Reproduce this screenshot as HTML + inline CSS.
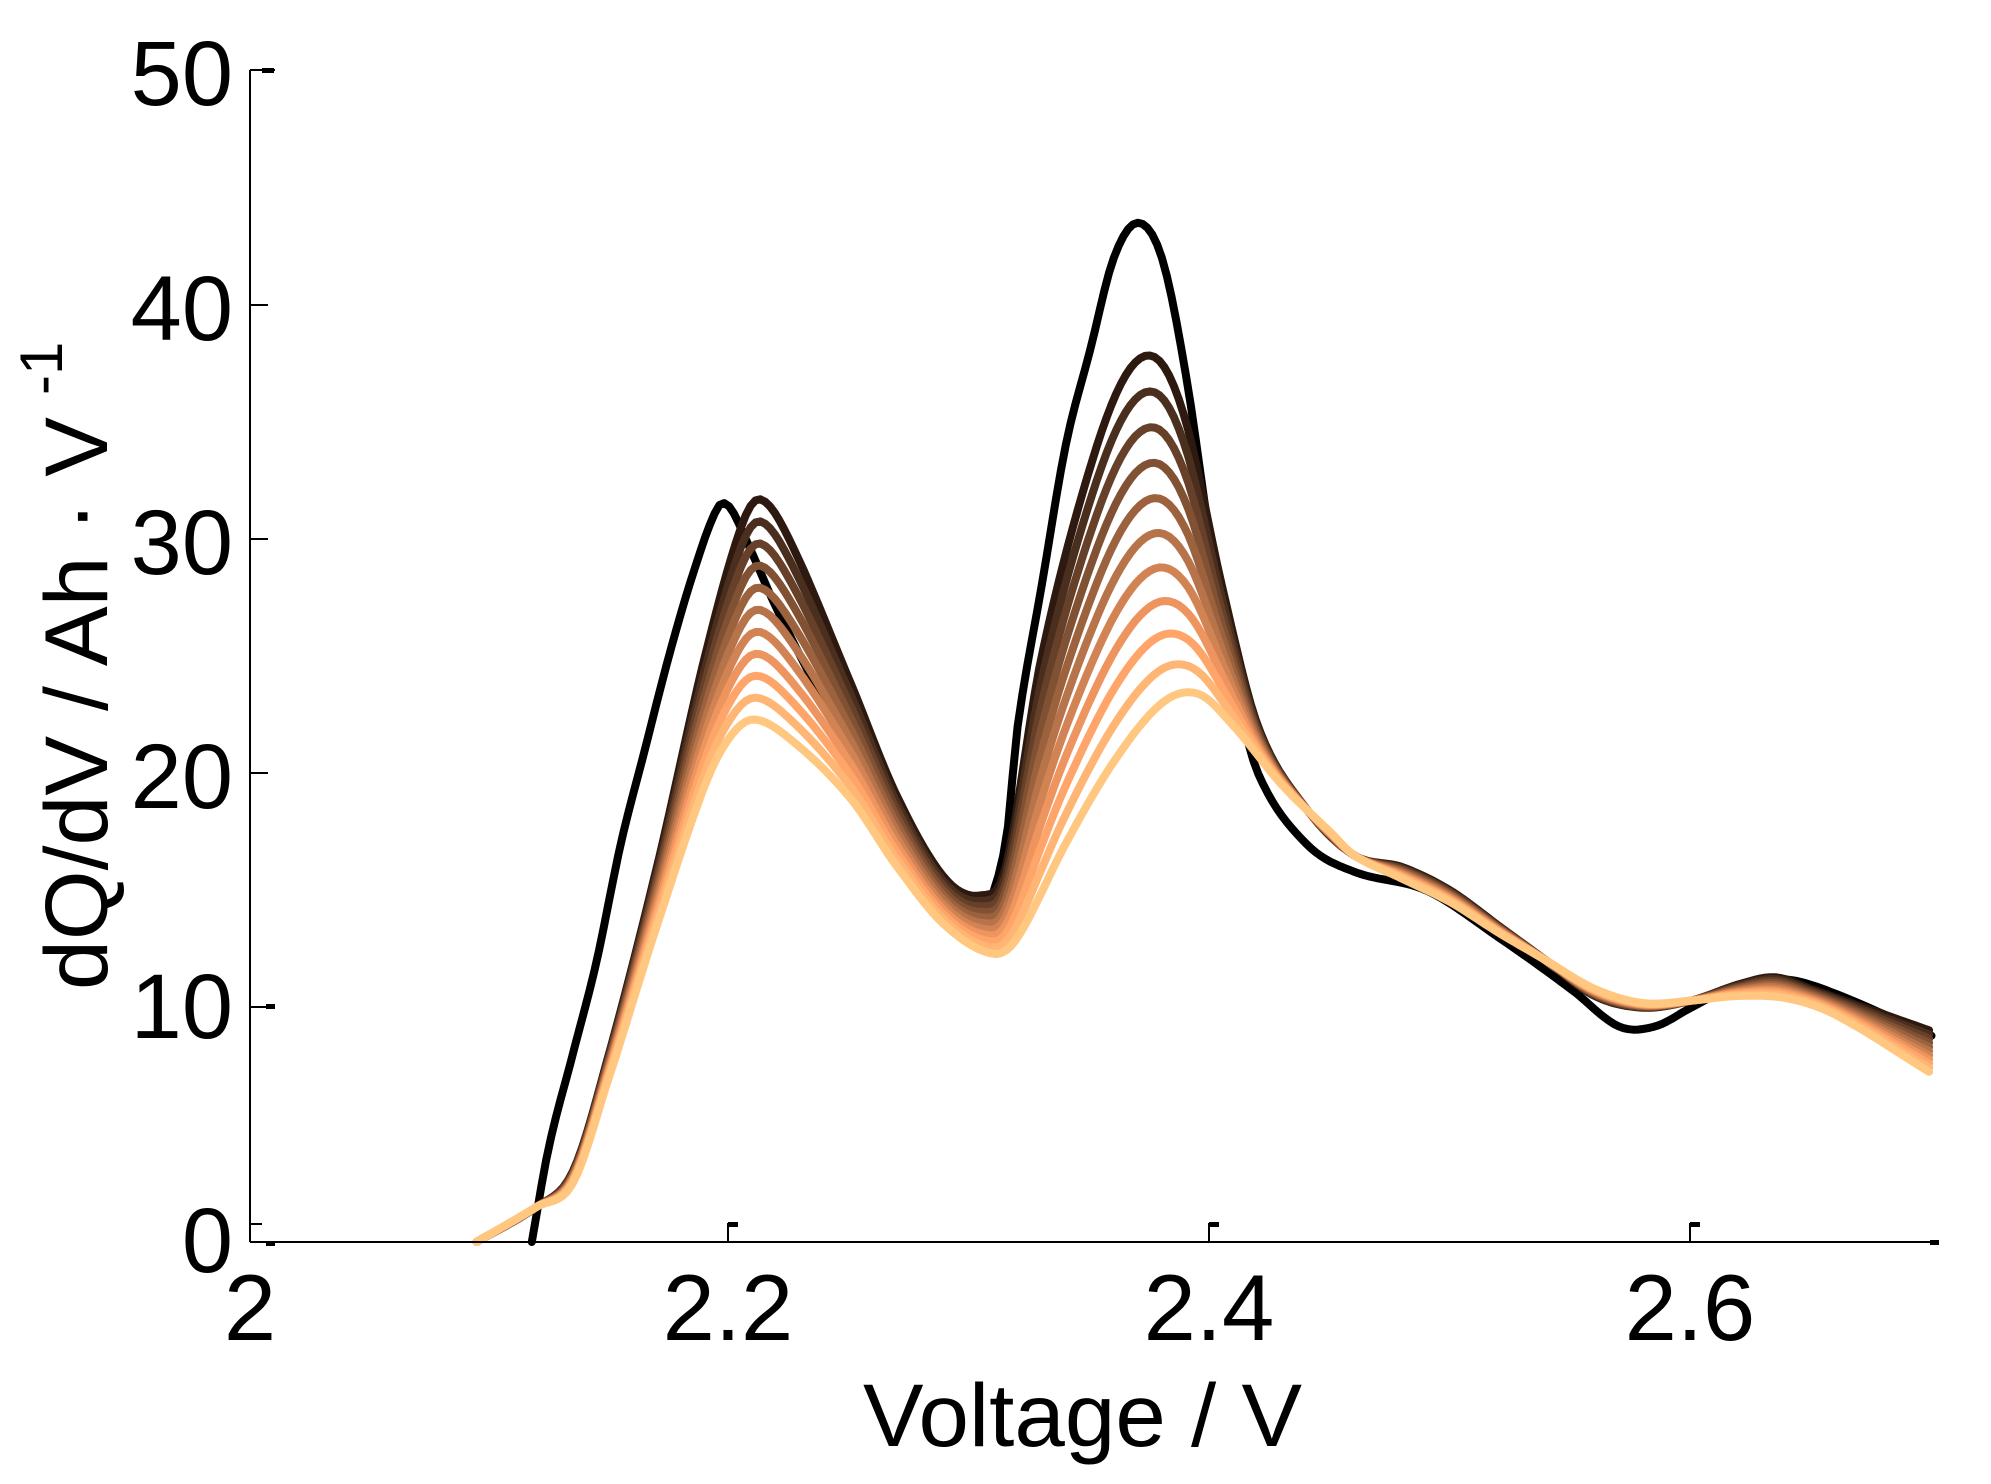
<!DOCTYPE html>
<html><head><meta charset="utf-8"><style>
html,body{margin:0;padding:0;background:#fff;}
svg{display:block;}
text{font-family:"Liberation Sans",Arial,sans-serif;fill:#000;}
</style></head><body>
<svg id="s" width="1991" height="1484" viewBox="0 0 1991 1484" xmlns="http://www.w3.org/2000/svg">
<rect width="1991" height="1484" fill="#fff"/>
<g id="curves" fill="none" stroke-linejoin="round" stroke-linecap="round"></g>
<line x1="250" y1="70" x2="250" y2="1242" stroke="#000" stroke-width="2"/>
<line x1="250" y1="1242" x2="1936" y2="1242" stroke="#000" stroke-width="2"/>
<rect x="1930" y="1240" width="9" height="5" fill="#000"/>
<g stroke="#000" stroke-width="2">
<line x1="250" y1="70" x2="275" y2="70"/>
<line x1="250" y1="305" x2="268" y2="305"/>
<line x1="250" y1="539" x2="268" y2="539"/>
<line x1="250" y1="773" x2="268" y2="773"/>
<line x1="250" y1="1007" x2="268" y2="1007"/>
<line x1="250" y1="1224" x2="262" y2="1224"/>
<line x1="728" y1="1242" x2="728" y2="1223"/>
<line x1="1209" y1="1242" x2="1209" y2="1223"/>
<line x1="1690" y1="1242" x2="1690" y2="1223"/>
</g>
<g fill="#000">
<rect x="262" y="68" width="12" height="5"/><rect x="266" y="1004" width="9" height="5"/>
<rect x="728" y="1222" width="10" height="5"/><rect x="1209" y="1222" width="10" height="5"/><rect x="1690" y="1222" width="10" height="5"/>
<rect x="266" y="1241" width="9" height="5"/>
</g>
<g font-size="92" text-anchor="end">
<text x="233" y="105">50</text>
<text x="233" y="340">40</text>
<text x="233" y="574">30</text>
<text x="233" y="808">20</text>
<text x="233" y="1038">10</text>
<text x="233" y="1272">0</text>
</g>
<g font-size="94" text-anchor="middle">
<text x="250" y="1340">2</text>
<text x="728" y="1340">2.2</text>
<text x="1209" y="1340">2.4</text>
<text x="1690" y="1340">2.6</text>
</g>
<text x="863" y="1446" font-size="89" textLength="439" lengthAdjust="spacingAndGlyphs">Voltage / V</text>
<text transform="translate(107,990) rotate(-90)" font-size="89" textLength="573" lengthAdjust="spacingAndGlyphs">dQ/dV / Ah · V</text>
<text transform="translate(62,395) rotate(-90)" font-size="60">-1</text>
</svg>
<script>
function X(v){return 248+(v-2)*2405;}
function Y(q){return 1242-23.43*q;}
function interp(pts,v){
  if(v<=pts[0][0])return pts[0][1];
  for(var i=1;i<pts.length;i++){if(v<=pts[i][0]){var a=pts[i-1],b=pts[i];var u=(v-a[0])/(b[0]-a[0]);
    var p0=pts[Math.max(0,i-2)],p3=pts[Math.min(pts.length-1,i+1)];
    var m1=(b[1]-p0[1])/(b[0]-p0[0])*(b[0]-a[0]), m2=(p3[1]-a[1])/(p3[0]-a[0])*(b[0]-a[0]);
    var u2=u*u,u3=u2*u;
    return (2*u3-3*u2+1)*a[1]+(u3-2*u2+u)*m1+(-2*u3+3*u2)*b[1]+(u3-u2)*m2;}}
  return pts[pts.length-1][1];}
var A=[[2.095,0],[2.12,1.5],[2.135,3],[2.15,8],[2.17,16],[2.19,25],[2.205,30.5],[2.213,31.7],[2.225,30],[2.25,24],[2.27,19],[2.29,15.5],[2.305,14.8],[2.315,16],[2.33,25],[2.35,33],[2.365,37],[2.378,37.7],[2.39,35],[2.405,28],[2.42,22],[2.44,18.5],[2.46,16.5],[2.48,16],[2.5,15],[2.52,13.5],[2.54,12],[2.56,10.5],[2.58,10],[2.6,10.3],[2.62,11],[2.635,11.3],[2.65,10.8],[2.7,9]];
var B=[[2.095,0],[2.12,1.5],[2.135,2.5],[2.15,7],[2.17,13.5],[2.19,19.5],[2.2,21.5],[2.21,22.3],[2.225,21.5],[2.25,19],[2.27,16],[2.29,13.5],[2.31,12.3],[2.32,13],[2.34,17],[2.36,20.5],[2.38,23],[2.395,23.4],[2.41,22],[2.43,19.5],[2.45,17.5],[2.46,16.5],[2.48,15.5],[2.5,14.5],[2.52,13.2],[2.54,12],[2.56,10.8],[2.58,10.2],[2.6,10.3],[2.62,10.5],[2.64,10.4],[2.66,9.7],[2.7,7.2]];
var K=[[2.118,0],[2.125,4],[2.135,8],[2.145,12],[2.155,17],[2.165,21],[2.175,25],[2.185,28.5],[2.195,31.3],[2.2,31.4],[2.207,30],[2.22,27],[2.25,21],[2.27,17.5],[2.29,14.5],[2.305,14],[2.315,17],[2.32,22],[2.33,28],[2.34,34],[2.35,38],[2.36,42],[2.37,43.5],[2.38,42],[2.39,37],[2.4,30],[2.41,24],[2.42,20],[2.44,17],[2.46,15.8],[2.49,15],[2.52,13],[2.55,10.8],[2.57,9.2],[2.585,9.2],[2.6,10],[2.62,11],[2.64,11.2],[2.66,10.6],[2.7,8.8]];
var g=document.getElementById('curves'),NS='http://www.w3.org/2000/svg';
function draw(fn,v0,col){var d='';for(var v=v0;v<=2.7001;v+=0.002){d+=(d?'L':'M')+X(v).toFixed(1)+','+Y(fn(v)).toFixed(1);}
  var p=document.createElementNS(NS,'path');p.setAttribute('d',d);p.setAttribute('stroke',col);p.setAttribute('stroke-width','8');g.appendChild(p);}
draw(function(v){return interp(K,v);},2.118,'#000');
var N=11;
for(var i=0;i<N;i++){var t=i/(N-1);
  var c=0.15+0.85*t;var r=Math.min(255,Math.round(255*1.25*c)),gg=Math.round(255*0.7812*c),b=Math.round(255*0.4975*c);
  if(i==0){r=45;gg=25;b=15;}
  (function(t){draw(function(v){return (1-t)*interp(A,v)+t*interp(B,v);},2.095,'rgb('+r+','+gg+','+b+')');})(t);}
</script>
</body></html>
